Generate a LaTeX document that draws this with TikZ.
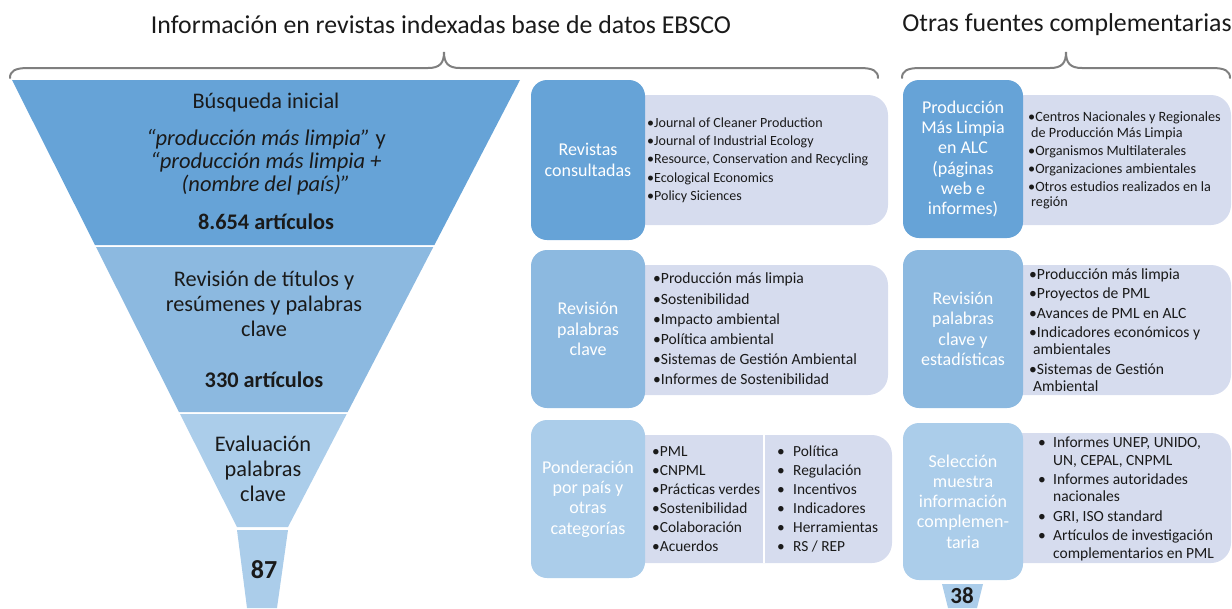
\documentclass[tikz,border=0pt]{standalone}
\usepackage{fontspec}
\setmainfont{Carlito}
\definecolor{blueA}{HTML}{66A3D7}
\definecolor{blueB}{HTML}{8CB9E0}
\definecolor{blueC}{HTML}{ABCDEA}
\definecolor{lavender}{HTML}{D6DCEE}
\definecolor{bracegray}{HTML}{7F7F7F}
\definecolor{ink}{HTML}{1A1A1A}
\begin{document}
\begin{tikzpicture}[x=1pt,y=-1pt,
  heading/.style={inner sep=0pt, font=\fontsize{25.8}{29}\selectfont, text=ink},
  brace/.style={draw=bracegray, line width=2pt, line cap=round},
  funtext/.style={inner sep=0pt, align=center, text=ink, font=\fontsize{22.3}{25}\selectfont},
  darkbox/.style={rounded corners=16pt, inner sep=0pt, text=white, align=center,
    minimum width=114pt, font=\fontsize{18}{20.3}\selectfont},
  lightbox/.style={fill=lavender, rounded corners=20pt, inner sep=0pt},
  list/.style={inner sep=0pt, align=left, anchor=west, text=ink}
]
\useasboundingbox (0,0) rectangle (1232,608);

% headings and braces
\node[heading] (h1) at (441,25) {Información en revistas indexadas base de datos EBSCO};
\node[heading] (h2) at (1067,25) {Otras fuentes complementarias};
\draw[brace] (10,78) .. controls (10,71) and (15,68) .. (28,68) -- (428,68)
  .. controls (440,68) and (444,63) .. (444,52)
  .. controls (444,63) and (448,68) .. (460,68) -- (860,68)
  .. controls (873,68) and (878,71) .. (878,78);
\draw[brace] (902,78) .. controls (902,71) and (907,68) .. (920,68) -- (1050,68)
  .. controls (1062,68) and (1066,63) .. (1066,52)
  .. controls (1066,63) and (1070,68) .. (1082,68) -- (1212,68)
  .. controls (1225,68) and (1230,71) .. (1230,78);

% funnel
\fill[blueA] (12,80) -- (520,80) -- (434.4,245) -- (95,245) -- cycle;
\fill[blueB] (96,247) -- (433.3,247) -- (347.7,412) -- (179,412) -- cycle;
\fill[blueC] (180,414) -- (346.7,414) -- (288,527) -- (237,527) -- cycle;
\fill[blueC] (237,530) -- (288,530) -- (277,608) -- (247,608) -- cycle;

\node[funtext] (f1) at (266,103) {Búsqueda inicial};
\node[funtext, font=\fontsize{22.5}{23}\selectfont\itshape] (f1q) at (266,162)
  {“producción más limpia” \upshape y\\“producción más limpia +\\(nombre del país)”};
\node[funtext, font=\fontsize{22.3}{25}\selectfont\bfseries] (f1n) at (266,222) {8.654 artículos};
\node[funtext] (f2) at (264,304) {Revisión de títulos y\\resúmenes y palabras\\clave};
\node[funtext, font=\fontsize{22.3}{25}\selectfont\bfseries] (f2n) at (264,380) {330 artículos};
\node[funtext] (f3) at (263,469) {Evaluación\\palabras\\clave};
\node[funtext, font=\fontsize{26}{30}\selectfont\bfseries] (f4) at (264,570) {87};

% middle column: light panels
\node[lightbox, minimum width=268pt, minimum height=130pt] (ml1) at (754,160) {};
\node[lightbox, minimum width=268pt, minimum height=130pt] (ml2) at (754,330) {};
\node[lightbox, minimum width=272pt, minimum height=128pt] (ml3) at (756,499) {};
\draw[white, line width=1.5pt] (764,435) -- (764,563);

% middle column: dark tabs
\node[darkbox, fill=blueA, minimum height=160pt] (md1) at (588,160) {Revistas\\consultadas};
\node[darkbox, fill=blueB, minimum height=158pt] (md2) at (588,329) {Revisión\\palabras\\clave};
\node[darkbox, fill=blueC, minimum height=158pt] (md3) at (588,499) {Ponderación\\por país y\\otras\\categorías};

\node[list, font=\fontsize{14}{18.3}\selectfont] (mt1) at (647,160)
  {•Journal of Cleaner Production\\•Journal of Industrial Ecology\\•Resource, Conservation and Recycling\\•Ecological Economics\\•Policy Siciences};
\node[list, font=\fontsize{15.6}{20.2}\selectfont] (mt2) at (653,329)
  {•Producción más limpia\\•Sostenibilidad\\•Impacto ambiental\\•Política ambiental\\•Sistemas de Gestión Ambiental\\•Informes de Sostenibilidad};
\node[list, font=\fontsize{15.4}{19}\selectfont] (mt3a) at (652,499)
  {•PML\\•CNPML\\•Prácticas verdes\\•Sostenibilidad\\•Colaboración\\•Acuerdos};
\node[list, font=\fontsize{15.4}{19}\selectfont] (mt3b) at (777,499)
  {\makebox[16pt][l]{•}Política\\\makebox[16pt][l]{•}Regulación\\\makebox[16pt][l]{•}Incentivos\\\makebox[16pt][l]{•}Indicadores\\\makebox[16pt][l]{•}Herramientas\\\makebox[16pt][l]{•}RS / REP};

% right column: light panels
\node[lightbox, minimum width=231pt, minimum height=130pt] (rl1) at (1115.5,160) {};
\node[lightbox, minimum width=231pt, minimum height=130pt] (rl2) at (1115.5,330) {};
\node[lightbox, minimum width=231pt, minimum height=130pt] (rl3) at (1115.5,498) {};

% right column: dark tabs
\node[darkbox, fill=blueA, minimum width=120pt, minimum height=158pt] (rd1) at (963,159)
  {Producción\\Más Limpia\\en ALC\\(páginas\\web e\\informes)};
\node[darkbox, fill=blueB, minimum width=120pt, minimum height=158pt] (rd2) at (963,329)
  {Revisión\\palabras\\clave y\\estadísticas};
\node[darkbox, fill=blueC, minimum width=120pt, minimum height=157pt] (rd3) at (963,501.5)
  {Selección\\muestra\\información\\complemen-\\taria};

\node[list, font=\fontsize{14.2}{15.5}\selectfont] (rt1) at (1028,160.5)
  {•Centros Nacionales y Regionales\\\hspace*{3pt}de Producción Más Limpia\\[2.5pt]•Organismos Multilaterales\\[2.5pt]•Organizaciones ambientales\\[2.5pt]•Otros estudios realizados en la\\\hspace*{3pt}región};
\node[list, font=\fontsize{15.6}{17}\selectfont] (rt2) at (1029,330)
  {•Producción más limpia\\[2.5pt]•Proyectos de PML\\[2.5pt]•Avances de PML en ALC\\[2.5pt]•Indicadores económicos y\\\hspace*{4pt}ambientales\\[2.5pt]•Sistemas de Gestión\\\hspace*{4pt}Ambiental};
\node[list, font=\fontsize{15.5}{17.4}\selectfont] (rt3) at (1038,498.8)
  {\makebox[15pt][l]{•}Informes UNEP, UNIDO,\\\hspace*{15pt}UN, CEPAL, CNPML\\[2pt]\makebox[15pt][l]{•}Informes autoridades\\\hspace*{15pt}nacionales\\[2pt]\makebox[15pt][l]{•}GRI, ISO standard\\[2pt]\makebox[15pt][l]{•}Artículos de investigación\\\hspace*{15pt}complementarios en PML};

% count below the right column
\fill[blueC] (942,584) -- (983,584) -- (977,608) -- (948,608) -- cycle;
\node[funtext, font=\fontsize{23}{26}\selectfont\bfseries] (r38) at (962,595.5) {38};
\end{tikzpicture}
\end{document}
